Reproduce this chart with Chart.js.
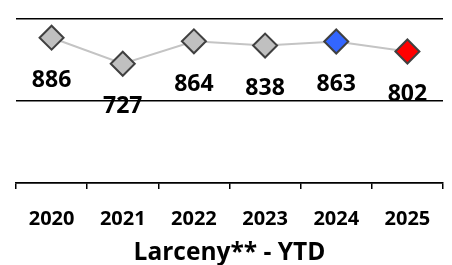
<!DOCTYPE html>
<html>
<head>
<meta charset="utf-8">
<script src="https://cdn.jsdelivr.net/npm/chart.js@4"></script>
<style>
  html, body { margin: 0; padding: 0; background: #fff; }
  #wrap { width: 452px; height: 265px; }
</style>
</head>
<body>
<div id="wrap"><canvas id="chart" width="452" height="265"></canvas></div>
<script>
const years = ['2020', '2021', '2022', '2023', '2024', '2025'];
const counts = [886, 727, 864, 838, 863, 802];
const pointFills = ['#c0c0c0', '#c0c0c0', '#c0c0c0', '#c0c0c0', '#3366ff', '#ff0000'];

const FONT = "'Open Sans', 'Liberation Sans', sans-serif";

// Draw value labels under each marker
const valueLabels = {
    id: 'valueLabels',
    afterDatasetsDraw(chart) {
        const ctx = chart.ctx;
        const meta = chart.getDatasetMeta(0);
        ctx.save();
        ctx.font = 'bold 23px ' + FONT;
        ctx.fillStyle = '#000';
        ctx.textAlign = 'center';
        ctx.textBaseline = 'middle';
        meta.data.forEach((pt, i) => {
            ctx.fillText(String(counts[i]), pt.x, pt.y + 43);
        });
        ctx.restore();
    }
};

function drawChart() {
    new Chart(document.getElementById('chart'), {
        type: 'line',
        data: {
            labels: years,
            datasets: [{
                data: counts,
                borderColor: '#c4c4c4',
                borderWidth: 2,
                pointStyle: 'rectRot',
                pointRadius: 12,
                pointHoverRadius: 12,
                pointBackgroundColor: pointFills,
                pointBorderColor: '#404040',
                pointBorderWidth: 2,
                tension: 0
            }]
        },
        options: {
            responsive: false,
            animation: false,
            layout: {
                autoPadding: false,
                padding: { left: 16, right: 9, top: 19, bottom: 0 }
            },
            plugins: {
                legend: { display: false },
                tooltip: { enabled: false },
                title: {
                    display: true,
                    position: 'bottom',
                    text: 'Larceny** - YTD',
                    color: '#000',
                    font: { family: FONT, size: 24.5, weight: 'bold' },
                    padding: { top: -10.7, bottom: -2.7 }
                }
            },
            scales: {
                x: {
                    offset: true,
                    grid: {
                        offset: true,
                        drawOnChartArea: false,
                        drawTicks: true,
                        tickLength: 6,
                        color: '#000',
                        lineWidth: 1.5
                    },
                    border: { display: true, color: '#000', width: 1.5 },
                    ticks: {
                        color: '#000',
                        padding: 18,
                        maxRotation: 0,
                        font: { family: FONT, size: 20, weight: 'bold' }
                    }
                },
                y: {
                    min: 0,
                    max: 1000,
                    ticks: { display: false, stepSize: 500 },
                    grid: { color: '#000', lineWidth: 1.5, drawTicks: false },
                    border: { display: false }
                }
            }
        },
        plugins: [valueLabels]
    });
}

// make sure the canvas text uses the real font, not a fallback
Promise.all([
    document.fonts.load("bold 23px 'Open Sans'"),
    document.fonts.load("bold 20px 'Open Sans'")
]).then(drawChart, drawChart);
</script>
</body>
</html>
